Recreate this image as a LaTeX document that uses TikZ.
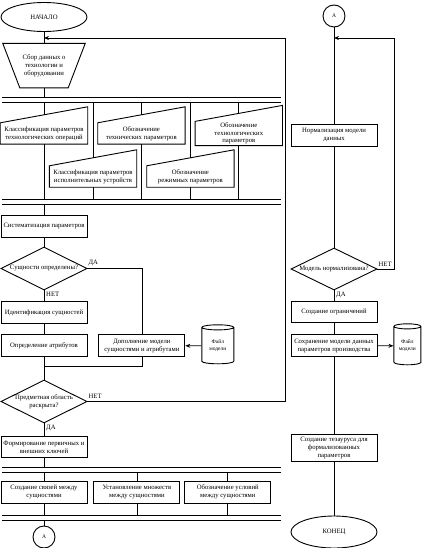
\documentclass[tikz,border=0pt]{standalone}
\usepackage{fontspec}
\setmainfont{Liberation Serif}
\usetikzlibrary{
    positioning,      % 相对定位
    arrows.meta,      % 箭头样式
    shapes.geometric  % 菱形、椭圆、圆柱
}

\begin{document}
\begin{tikzpicture}[
        x=1pt, y=-1pt,
        font=\fontsize{6.7}{7.8}\selectfont,
        box/.style={
            rectangle,
            draw=black,
            line width=0.9pt,
            minimum width=86pt,
            minimum height=#1,
            inner sep=1pt,
            align=center
        },
        box/.default=22pt,
        plain/.style={
            rectangle,
            minimum width=#1,
            minimum height=21pt,
            inner sep=1pt,
            align=center
        },
        plain/.default=87pt,
        decision/.style={
            diamond,
            draw=black,
            line width=0.9pt,
            aspect=2,
            inner sep=0pt,
            minimum width=86pt,
            minimum height=43pt,
            align=center
        },
        terminal/.style={
            ellipse,
            draw=black,
            line width=0.9pt,
            minimum width=86pt,
            minimum height=29pt
        },
        connector/.style={
            circle,
            draw=black,
            line width=0.9pt,
            minimum size=22pt,
            inner sep=0pt,
            font=\fontsize{5.5}{6.5}\selectfont
        },
        storage/.style={
            cylinder,
            shape border rotate=90,
            aspect=0.3,
            draw=black,
            line width=0.9pt,
            minimum width=#1,
            minimum height=39pt,
            inner sep=0pt,
            align=center,
            font=\fontsize{5.5}{6.5}\selectfont
        },
        storage/.default=32pt,
        tag/.style={inner sep=0pt},
        line/.style={line width=0.8pt},
        arrow/.style={
            line width=0.8pt,
            -{Stealth[length=5pt,width=4pt]}
        },
        bar/.style={line width=0.9pt}
    ]
    \useasboundingbox (0,0) rectangle (425,548);

    % 左列：开始与数据收集
    \node[terminal] (start) at (44,17) {НАЧАЛО};
    \node[plain=82pt, minimum height=44pt, below=11.5pt of start] (collect) {Сбор данных о\\технологии и\\оборудовании};
    \draw[line width=0.9pt] (collect.north west) -- (collect.north east) -- ([xshift=-17pt]collect.south east) -- ([xshift=17pt]collect.south west) -- cycle;
    \coordinate (in1) at (44,38);
    \draw[line] (start) -- (collect);

    % 并行分支线
    \coordinate (barA) at (2,97);  \coordinate (barAb) at (2,102);
    \coordinate (barB) at (2,199); \coordinate (barBb) at (2,204);
    \coordinate (barC) at (2,467); \coordinate (barCb) at (2,472);
    \coordinate (barD) at (2,515); \coordinate (barDb) at (2,520);
    \foreach \t/\b in {barA/barAb, barB/barBb, barC/barCb, barD/barDb} {
        \draw[bar] (\t) -- +(279,0);
        \draw[bar] (\b) -- +(279,0);
    }

    % 参数分类
    \node[plain] (cls1) at (44,133.5) {Классификация параметров\\технологических операций};
    \node[plain, right=10pt of cls1] (cls2) {Обозначение\\технических параметров};
    \node[plain, right=10pt of cls2] (cls3) {Обозначение\\технологических\\параметров};
    \node[plain] (cls4) at (93,176.5) {Классификация параметров\\исполнительных устройств};
    \node[plain, right=10pt of cls4] (cls5) {Обозначение\\режимных параметров};
    \foreach \n in {cls1,cls2,cls3,cls4,cls5} {
        \draw[line width=0.9pt] (\n.north west) -- ([yshift=16pt]\n.north east) -- (\n.south east) -- (\n.south west) -- cycle;
        \draw[line] (\n |- barAb) -- ([yshift=8pt]\n.north);
        \draw[line] (\n.south) -- (\n |- barB);
    }
    \draw[line] (collect.south) -- (collect |- barA);

    % 实体识别
    \node[box] (syst) at (44,226) {Систематизация параметров};
    \node[decision] (q1) at (44,268.5) {Сущности определены?};
    \node[box, below=11pt of q1] (ident) {Идентификация сущностей};
    \node[box, below=10pt of ident] (attr) {Определение атрибутов};
    \node[box, right=11pt of attr] (addm) {Дополнение модели\\сущностями и атрибутами};
    \node[storage, right=16pt of addm] (file1) {Файл\\модели};
    \node[tag, above right=2pt and 1pt of q1.east] (yes1) {ДА};
    \node[tag, below right=1pt and 2pt of q1.south] (no1) {НЕТ};
    \coordinate (merge) at (44,366);

    \draw[line] (syst |- barBb) -- (syst);
    \draw[line] (syst) -- (q1);
    \draw[line] (q1) -- (ident);
    \draw[line] (ident) -- (attr);
    \draw[line] (q1.east) -| (addm.north);
    \draw[arrow] (file1) -- (addm);
    \draw[line] (addm.south) |- (merge);

    % 主题域检查
    \node[decision] (q2) at (44,401.5) {Предметная область\\раскрыта?};
    \node[box=21pt, below=13pt of q2] (keys) {Формирование первичных и\\внешних ключей};
    \node[tag, above right=2.5pt and 1pt of q2.east] (no2) {НЕТ};
    \node[tag, below right=1pt and 2pt of q2.south] (yes2) {ДА};
    \coordinate (loop1) at (285,38);
    \draw[line] (attr) -- (q2);
    \draw[line] (q2) -- (keys);
    \draw[arrow] (q2.east) -| (loop1) -- (in1);
    \draw[line] (keys) -- (keys |- barC);

    % 实体间关系
    \node[box] (rel1) at (44,492) {Создание связей между\\сущностями};
    \node[box, right=6pt of rel1] (rel2) {Установление множеств\\между сущностями};
    \node[box, right=4pt of rel2] (rel3) {Обозначение условий\\между сущностями};
    \foreach \n in {rel1,rel2,rel3} {
        \draw[line] (\n |- barCb) -- (\n);
        \draw[line] (\n) -- (\n |- barD);
    }
    \node[connector] (conA1) at (44,537) {А};
    \draw[line] (conA1 |- barDb) -- (conA1);

    % 右列：规范化与保存
    \node[connector] (conA2) at (334,16) {А};
    \node[box] (norm) at (334,135) {Нормализация модели\\данных};
    \node[decision, minimum height=42pt] (q3) at (334,269) {Модель нормализована?};
    \node[box=21pt, below=11pt of q3] (constr) {Создание ограничений};
    \node[box, below=11pt of constr] (save) {Сохранение модели данных\\параметров производства};
    \node[storage=27pt, minimum height=41pt, right=16pt of save] (file2) {Файл\\модели};
    \node[box=27pt, below=77pt of save] (thes) {Создание тезауруса для\\формализованных\\параметров};
    \node[terminal, minimum height=32pt] (end) at (334,532) {КОНЕЦ};
    \node[tag, above right=2pt and 1pt of q3.east] (no3) {НЕТ};
    \node[tag, below right=1pt and 2pt of q3.south] (yes3) {ДА};
    \coordinate (in2) at (334,38);
    \coordinate (loop2) at (394,38);

    \draw[line] (conA2) -- (norm);
    \draw[line] (norm) -- (q3);
    \draw[arrow] (q3.east) -| (loop2) -- (in2);
    \draw[line] (q3) -- (constr);
    \draw[line] (constr) -- (save);
    \draw[arrow] (save) -- (file2);
    \draw[line] (save) -- (thes);
    \draw[line] (thes) -- (end);
\end{tikzpicture}
\end{document}
